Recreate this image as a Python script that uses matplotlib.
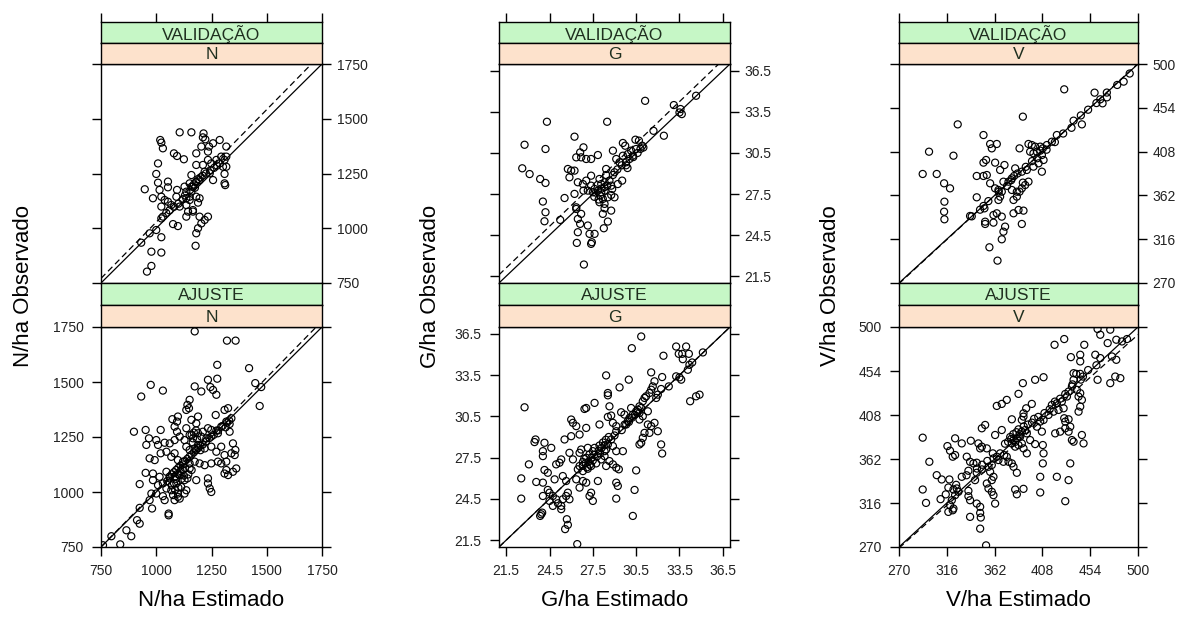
import numpy as np
import matplotlib.pyplot as plt

plt.rcParams['font.family'] = ['Liberation Sans', 'DejaVu Sans']

# ---- N/ha: (estimado, observado) ----
n_val = [(1106, 1438), (1159, 1438), (1214, 1433), (1211, 1415),
         (1018, 1403), (1023, 1391), (1030, 1365), (1080, 1342), (1094, 1330), (1125, 1315),
         (1222, 1406), (1204, 1373), (1239, 1373), (1257, 1388), (1287, 1403), (1317, 1373), (1234, 1350), (1181, 1342),
         (1008, 1296), (1181, 1289), (1211, 1289), (1234, 1312), (1249, 1296), (1272, 1312), (1294, 1327), (1309, 1312),
         (1317, 1327), (1287, 1296), (1302, 1281), (1317, 1281),
         (1000, 1248), (1159, 1243), (1219, 1258), (1242, 1251), (1257, 1220), (1309, 1248), (1309, 1205), (1312, 1197),
         (1008, 1208), (1053, 1213), (948, 1178), (1015, 1175), (1053, 1187), (1094, 1175), (1128, 1190), (1151, 1205),
         (1166, 1190), (1181, 1213), (1196, 1220), (1136, 1167), (1159, 1167),
         (985, 1137), (1023, 1144), (1038, 1129), (1053, 1121), (1091, 1144), (1136, 1137), (1151, 1144), (1181, 1144),
         (1196, 1137), (1151, 1129), (1189, 1117),
         (1023, 1099), (1068, 1106), (1106, 1099), (1136, 1106), (1166, 1083), (1144, 1076),
         (1023, 1045), (1030, 1053), (1136, 1053), (1166, 1076), (1196, 1053), (1234, 1053), (1219, 1038), (1204, 1022),
         (1189, 1000), (1181, 977), (1076, 1019), (1098, 1010),
         (970, 977), (1000, 992), (1023, 959), (932, 934), (978, 893), (1023, 889), (1178, 920), (978, 828), (958, 802),
         (1160, 1190), (1170, 1200), (1180, 1210), (1190, 1225), (1175, 1185), (1200, 1232), (1210, 1240), (1225, 1250),
         (1245, 1265), (1262, 1276), (1275, 1286), (1130, 1150), (1120, 1132), (1100, 1112), (1080, 1098), (1060, 1082),
         (1045, 1070)]

n_fit = [(1174, 1730), (1320, 1688), (1359, 1688), (1276, 1578), (1420, 1563), (975, 1487), (1030, 1461), (932, 1434),
         (1174, 1480), (1204, 1457), (1234, 1510), (1245, 1477), (1257, 1464), (1272, 1442), (1276, 1515), (1448, 1495),
         (1475, 1477), (1468, 1391),
         (1151, 1419), (1141, 1396), (1148, 1381), (1136, 1373), (1309, 1373), (1325, 1381), (1269, 1350), (1073, 1331),
         (1098, 1343), (1094, 1320), (1189, 1343), (1159, 1328), (1181, 1312), (1317, 1320), (1340, 1335), (1332, 1309),
         (899, 1274), (952, 1282), (967, 1244), (1020, 1282), (1083, 1297), (1094, 1274), (1136, 1290), (1151, 1259),
         (1166, 1244), (1189, 1267), (1211, 1274), (1234, 1290), (1249, 1282), (1272, 1279), (1332, 1274), (1294, 1297),
         (1314, 1294), (1279, 1267), (1249, 1252), (1227, 1244), (1204, 1252),
         (955, 1214), (1000, 1236), (1008, 1214), (1038, 1224), (1061, 1221), (1083, 1236), (1106, 1252), (1128, 1236),
         (1136, 1206), (1151, 1191), (1174, 1198), (1189, 1214), (1219, 1198), (1249, 1206), (1272, 1183), (1294, 1206),
         (1347, 1221), (1358, 1191), (1355, 1168), (1340, 1176), (1309, 1168),
         (970, 1153), (993, 1145), (1020, 1176), (1046, 1183), (1068, 1160), (1083, 1176), (1098, 1145), (1121, 1138),
         (1151, 1130), (1174, 1138), (1196, 1130), (1219, 1122), (1249, 1130), (1279, 1138), (1294, 1130), (1317, 1138),
         (1362, 1107), (1347, 1092), (1317, 1100), (1309, 1084), (1325, 1077), (1151, 1107),
         (952, 1087), (985, 1084), (1015, 1069), (1046, 1092), (1061, 1062), (1083, 1069), (1106, 1077), (1128, 1054),
         (1141, 1062), (1181, 1054), (1234, 1062), (1234, 1039),
         (925, 1036), (985, 1054), (1008, 1031), (1030, 1039), (1046, 1016), (1068, 1008), (1091, 1039), (1113, 1023),
         (1136, 1008), (1098, 993), (1076, 986), (1128, 993), (1242, 1016), (1249, 1000),
         (978, 993), (970, 963), (1000, 993), (1030, 981), (1038, 963), (1083, 963), (1098, 978), (1106, 970),
         (925, 928), (981, 925), (1056, 902), (1056, 894), (913, 872), (925, 856), (865, 826), (887, 799), (797, 799),
         (837, 762), (759, 758),
         (1050, 1050), (1060, 1070), (1070, 1080), (1080, 1090), (1090, 1100), (1100, 1110), (1110, 1120), (1120, 1125),
         (1130, 1140), (1140, 1150), (1150, 1160), (1160, 1170), (1170, 1180), (1180, 1190), (1190, 1200), (1200, 1210),
         (1210, 1215), (1225, 1230), (1240, 1245), (1260, 1260), (1280, 1280), (1300, 1300), (1320, 1315), (1330, 1325),
         (1100, 1080), (1110, 1095), (1090, 1060), (1120, 1100), (1130, 1110), (1080, 1040), (1070, 1030), (1115, 1060),
         (1125, 1075), (1145, 1080), (1160, 1100), (1100, 1020), (1085, 1010), (1160, 1260), (1170, 1270), (1180, 1280),
         (1165, 1225), (1185, 1240), (1200, 1190)]

# ---- G/ha ----
g_val = [(31.12, 34.31), (33.11, 34.00), (33.57, 33.71), (33.50, 33.46), (33.66, 33.34), (34.65, 34.68), (31.70, 32.12),
         (32.42, 31.76), (24.32, 32.78), (28.49, 32.78), (26.23, 31.69), (22.77, 31.10), (24.22, 30.79), (26.85, 30.91),
         (26.62, 30.54), (26.35, 30.18), (26.69, 30.18), (27.04, 30.06), (27.38, 30.06), (27.85, 30.35), (28.89, 30.67),
         (29.58, 31.23), (29.74, 31.03), (30.45, 31.47), (30.69, 31.40), (30.92, 31.03), (30.50, 30.79), (30.15, 30.67),
         (29.92, 30.42), (29.58, 30.30), (30.27, 30.30), (29.12, 30.06), (29.35, 29.82), (29.81, 29.82), (30.04, 30.06),
         (22.61, 29.38), (23.12, 28.96), (23.85, 28.60), (24.22, 28.31), (25.77, 29.33), (26.00, 29.21), (26.23, 29.21),
         (25.88, 28.72), (26.46, 28.36), (26.81, 28.23), (27.04, 28.48), (27.38, 28.84), (27.38, 28.11), (27.62, 27.87),
         (27.96, 28.60), (28.08, 28.23), (28.31, 28.36), (28.42, 29.33), (28.42, 28.89), (28.65, 28.48), (28.89, 28.89),
         (29.00, 29.09), (29.23, 28.23), (29.53, 28.48), (28.77, 28.11), (28.84, 27.87),
         (24.04, 26.95), (25.54, 27.21), (26.23, 27.51), (26.85, 27.75), (27.15, 27.75), (27.50, 27.63), (27.85, 27.75),
         (28.08, 27.63), (28.31, 27.75), (28.54, 27.26), (28.77, 27.43), (29.00, 27.26), (28.19, 27.14), (27.96, 26.90),
         (28.31, 26.78),
         (24.22, 26.17), (24.15, 25.51), (25.24, 25.61), (26.35, 26.53), (26.35, 26.41), (26.69, 26.05), (26.46, 25.68),
         (26.62, 25.32), (27.15, 25.20), (26.46, 24.71), (27.27, 24.59), (27.62, 24.59), (27.38, 23.86), (27.43, 23.98),
         (26.39, 23.93), (28.31, 26.46), (28.19, 26.05), (28.77, 26.29), (28.54, 25.49), (28.26, 25.00), (26.88, 22.35),
         (27.6, 27.3), (27.9, 27.1), (28.0, 27.4), (27.7, 27.6), (28.1, 27.9), (28.3, 28.0), (28.5, 28.1), (29.2, 29.3),
         (29.5, 29.6), (30.3, 30.2), (30.6, 30.5), (30.8, 30.8), (31.0, 30.9), (29.8, 29.6), (29.9, 29.4)]

g_fit = [(30.85, 36.31), (30.20, 35.46), (33.27, 35.58), (33.96, 35.58), (33.45, 35.05), (33.69, 35.05), (34.15, 35.05),
         (33.73, 34.66), (32.39, 34.91), (35.12, 35.15), (34.38, 34.42), (34.19, 34.25), (34.08, 33.89), (31.54, 33.70),
         (32.30, 33.36), (33.27, 33.41), (33.50, 33.34), (33.62, 33.17), (28.42, 33.48), (29.99, 33.17), (29.35, 32.61),
         (28.54, 32.20), (28.54, 32.03), (27.62, 31.48), (27.04, 31.11), (26.92, 31.04), (22.77, 31.16), (28.65, 31.23),
         (28.77, 30.56), (28.54, 30.46),
         (31.77, 33.05), (31.65, 32.68), (31.54, 32.44), (31.42, 32.20), (31.19, 31.96), (31.08, 31.84), (30.96, 31.60),
         (30.73, 31.23), (30.62, 30.99), (30.50, 30.87), (30.27, 30.63), (30.04, 30.39), (29.92, 30.15), (29.81, 29.91),
         (32.76, 32.68), (32.23, 32.49), (32.00, 32.08), (31.89, 31.84), (34.24, 31.60), (34.89, 32.08), (34.65, 31.96),
         (26.00, 30.27), (26.12, 30.03), (26.35, 29.79), (27.04, 29.66), (27.96, 29.91), (28.89, 30.03), (29.12, 29.79),
         (29.69, 30.63), (29.46, 30.80), (30.15, 31.11), (30.85, 31.11), (30.73, 30.75), (31.31, 30.87), (30.96, 30.51),
         (30.73, 30.27), (31.31, 29.91), (31.54, 29.79), (31.42, 29.30), (32.00, 29.42), (31.08, 29.30), (30.96, 28.94),
         (30.73, 28.46), (30.85, 28.58), (31.77, 30.03),
         (23.53, 28.82), (23.46, 28.63), (24.15, 28.58), (24.62, 28.21), (24.04, 27.97), (24.04, 27.61), (25.54, 28.82),
         (26.00, 29.06), (26.58, 29.18), (25.88, 27.85), (25.31, 27.37), (25.19, 27.13), (24.96, 27.01), (26.12, 27.37),
         (26.58, 27.85), (26.69, 28.09), (27.15, 28.21), (27.62, 28.21), (27.96, 28.38), (27.50, 27.97), (27.27, 27.73),
         (27.04, 27.49), (26.81, 27.18), (26.58, 26.89), (26.46, 26.65), (26.81, 26.52), (27.15, 26.69), (27.38, 26.89),
         (27.73, 27.08), (28.08, 27.37), (28.31, 27.61), (28.42, 28.09), (28.54, 28.46), (28.77, 28.82), (29.00, 29.11),
         (29.12, 29.42), (28.89, 28.34), (28.31, 27.97), (29.12, 27.97), (29.58, 27.97), (32.23, 28.46), (32.30, 27.80),
         (28.42, 26.89), (28.65, 27.25), (28.89, 27.01), (29.12, 26.77), (29.30, 26.65),
         (23.07, 27.01), (22.54, 25.99), (23.58, 25.73), (24.04, 25.68), (24.15, 26.60), (24.38, 26.40), (24.85, 25.92),
         (25.42, 26.16), (25.65, 25.80), (26.35, 25.92), (26.81, 25.80), (27.04, 25.68), (27.85, 25.80), (29.12, 25.68),
         (29.23, 25.44), (30.50, 26.57), (30.39, 25.15), (27.38, 24.95), (27.27, 24.71), (27.50, 24.35), (26.58, 25.32),
         (24.38, 25.15), (24.50, 24.95), (24.73, 24.71), (24.96, 24.47), (25.08, 24.18), (25.31, 23.99), (25.42, 24.47),
         (25.65, 24.71), (25.77, 24.95), (25.88, 24.47), (25.31, 23.75), (24.73, 23.99), (24.50, 24.35), (24.04, 24.71),
         (23.99, 23.50), (23.85, 23.26), (23.92, 23.38), (22.54, 24.52), (29.12, 24.52), (30.27, 23.26), (25.70, 23.02),
         (25.77, 22.61), (25.58, 22.30), (26.42, 21.21),
         (26.8, 26.9), (27.0, 27.1), (27.2, 27.2), (27.4, 27.5), (27.6, 27.7), (27.8, 27.6), (27.9, 28.0), (28.1, 28.2),
         (28.2, 28.6), (28.4, 28.8), (28.6, 29.0), (26.9, 27.4), (27.1, 26.8), (27.3, 27.0), (27.5, 27.3), (28.0, 27.8),
         (28.3, 28.4), (29.5, 29.5), (29.7, 29.9), (30.0, 30.1), (30.2, 30.4), (30.4, 30.6), (30.6, 30.8)]

# ---- V/ha ----
v_val = [(429.0, 473.4), (458.2, 469.9), (463.7, 462.9), (465.9, 458.7), (470.1, 465.0), (486.2, 481.5), (389.2, 444.7),
         (326.5, 436.6), (351.3, 425.4), (438.0, 440.5), (446.0, 436.6), (421.9, 425.4), (417.1, 418.4), (412.3, 414.9),
         (408.4, 411.4), (405.9, 413.2), (401.0, 413.2), (397.8, 414.9), (394.6, 416.0), (386.0, 411.4), (396.2, 407.9),
         (399.4, 406.2), (402.7, 407.9), (407.5, 404.4), (409.1, 399.2), (404.3, 395.7), (399.4, 392.2), (407.5, 386.9),
         (298.9, 407.9), (322.4, 403.7), (357.7, 416.0), (364.1, 416.0), (359.3, 411.4), (353.8, 399.2), (351.3, 396.4),
         (362.5, 396.4), (371.5, 393.9), (367.3, 388.7), (381.8, 390.4), (388.2, 386.9), (393.0, 388.7), (380.8, 382.4),
         (378.6, 379.9), (375.4, 376.4), (389.2, 375.4), (394.6, 376.4), (391.4, 372.9), (388.2, 369.4), (386.0, 365.9),
         (383.4, 360.7), (380.2, 357.2), (292.8, 384.5), (306.3, 384.5), (313.4, 374.7), (319.1, 369.4), (344.8, 382.4),
         (351.3, 382.4), (354.5, 383.4), (357.7, 374.7), (362.5, 369.4), (365.7, 367.7), (368.9, 365.9), (370.5, 376.4),
         (367.3, 360.7), (365.7, 357.2), (378.6, 367.7), (383.4, 365.9),
         (313.7, 355.4), (313.4, 344.9), (313.7, 336.9), (344.8, 360.0), (351.3, 350.9), (338.4, 340.4), (352.2, 348.4),
         (360.9, 341.4), (364.1, 343.2), (368.9, 339.7), (360.9, 333.4), (352.9, 334.4), (352.9, 332.0), (380.2, 343.2),
         (385.0, 346.7), (389.8, 346.0), (388.2, 332.0), (372.1, 329.2), (370.5, 323.9), (368.9, 315.9), (357.0, 307.5),
         (364.8, 293.5),
         (340, 340), (348, 347), (356, 356), (366, 366), (374, 372), (378, 378), (384, 385), (392, 392), (398, 398),
         (403, 401), (406, 409), (412, 410), (420, 418), (428, 427), (436, 433), (445, 446), (452, 452), (460, 459),
         (470, 470), (480, 478), (492, 490)]

v_fit = [(461.1, 497.9), (473.3, 497.2), (463.7, 491.9), (470.8, 483.2), (479.1, 486.7), (484.6, 484.9), (489.4, 487.4),
         (429.0, 487.4), (419.7, 481.4), (448.3, 481.4), (435.4, 468.5), (444.4, 471.0), (444.4, 464.0), (458.9, 471.0),
         (463.7, 467.5), (474.9, 469.2), (479.1, 465.7), (438.0, 451.7), (440.6, 451.0), (444.4, 451.0), (447.0, 448.2),
         (438.0, 444.8), (461.1, 444.8), (473.3, 441.3), (478.1, 448.2), (483.0, 446.5), (389.2, 441.3), (401.0, 444.8),
         (409.1, 447.5), (385.0, 430.1), (373.7, 423.8), (364.1, 417.5), (368.9, 419.6),
         (436.4, 437.8), (433.2, 432.5), (441.2, 434.3), (444.4, 430.8), (442.8, 427.3), (446.0, 423.8), (431.6, 427.3),
         (426.7, 422.0), (421.9, 420.3), (417.1, 418.5), (428.4, 415.0), (423.5, 413.3), (418.7, 411.5), (413.9, 408.1),
         (409.1, 402.8), (405.9, 401.1), (402.7, 395.8), (407.5, 390.6), (397.8, 419.6), (392.4, 415.0), (389.8, 409.8),
         (389.8, 406.3), (388.2, 402.8), (378.6, 403.5), (352.9, 397.6), (349.7, 394.1), (362.5, 387.1), (368.9, 392.3),
         (391.4, 392.3), (393.0, 388.8), (388.2, 390.6), (386.6, 385.3), (383.4, 383.6), (380.2, 381.8), (378.6, 378.3),
         (381.8, 374.9), (385.0, 376.6), (388.2, 378.3), (389.8, 373.1), (393.0, 367.9), (396.2, 381.8), (401.0, 377.6),
         (408.4, 376.6), (409.1, 367.9), (429.0, 404.6), (430.0, 401.1), (433.2, 403.5), (434.8, 395.8), (433.2, 390.6),
         (430.0, 394.1), (425.1, 390.6), (420.3, 388.8), (436.4, 381.8), (438.0, 380.1), (446.0, 387.1), (447.6, 378.3),
         (442.8, 411.5), (444.4, 416.8), (408.4, 357.4), (434.8, 357.4), (405.9, 343.4), (433.2, 339.9), (405.9, 327.0),
         (430.0, 317.9),
         (292.8, 384.3), (299.2, 359.1), (306.3, 345.1), (311.1, 340.6), (318.5, 340.6), (316.6, 375.5), (319.1, 370.7),
         (321.7, 364.4), (324.0, 366.1), (324.0, 383.6), (330.4, 378.3), (339.1, 381.1), (346.4, 378.3), (349.7, 374.9),
         (335.2, 364.4), (338.4, 359.1), (341.6, 357.4), (344.8, 358.1), (348.1, 373.1), (354.5, 373.1), (360.3, 367.9),
         (364.1, 364.4), (367.3, 367.9), (371.2, 366.1), (373.7, 364.4), (375.4, 359.1), (378.6, 357.4), (380.2, 353.9),
         (383.4, 347.6), (370.5, 359.1), (365.7, 360.9), (360.9, 362.6), (359.3, 355.7), (356.1, 353.9), (357.7, 348.6),
         (360.9, 343.4), (359.3, 339.9), (354.5, 336.4), (356.1, 331.2), (359.3, 327.7), (360.9, 324.2), (362.5, 315.4),
         (349.7, 351.1), (344.8, 347.6), (343.2, 339.9), (336.8, 349.7), (330.4, 343.4),
         (292.8, 330.1), (296.0, 316.1), (317.5, 332.2), (322.4, 330.1), (325.6, 331.2), (327.2, 327.7), (324.0, 324.2),
         (320.8, 318.9), (319.1, 313.7), (321.7, 308.4), (317.5, 306.7), (322.4, 310.2), (336.8, 328.7), (336.8, 323.1),
         (338.4, 318.9), (344.8, 315.4), (348.1, 312.0), (348.1, 305.6), (348.7, 300.8), (348.1, 289.2), (338.4, 301.5),
         (353.8, 271.7), (381.8, 330.1), (389.8, 330.8), (383.4, 325.1), (421.9, 343.4),
         (372, 378), (375, 380), (377, 385), (380, 388), (383, 390), (385, 393), (378, 383), (382, 380), (386, 388),
         (390, 396), (394, 398), (398, 400), (400, 404), (404, 406), (410, 410), (415, 414), (420, 422), (425, 425),
         (430, 430), (437, 440), (445, 445), (452, 455), (460, 460), (350, 356), (355, 360), (345, 352), (335, 345),
         (325, 335), (315, 325), (310, 320)]

# fitted regression lines (intercept, slope) of observado ~ estimado
n_val_line = (771 - 1.028 * 750, 1.028)
n_fit_line = (750 - 1.027 * 750, 1.027)
g_val_line = (21.6 - 1.012 * 21.0, 1.012)
g_fit_line = (0.0, 1.0)
v_val_line = (-2.0, 1.005)
v_fit_line = (7.0, 0.97)

variables = ['N', 'G', 'V']
limits = [(750, 1750), (21.0, 37.0), (270, 500)]
ticks = [[750, 1000, 1250, 1500, 1750],
         [21.5, 24.5, 27.5, 30.5, 33.5, 36.5],
         [270, 316, 362, 408, 454, 500]]
tick_labels = [['750', '1000', '1250', '1500', '1750'],
               ['21.5', '24.5', '27.5', '30.5', '33.5', '36.5'],
               ['270', '316', '362', '408', '454', '500']]
val_sets = [n_val, g_val, v_val]
fit_sets = [n_fit, g_fit, v_fit]
val_lines = [n_val_line, g_val_line, v_val_line]
fit_lines = [n_fit_line, g_fit_line, v_fit_line]
xlabels = ['N/ha Estimado', 'G/ha Estimado', 'V/ha Estimado']
ylabels = ['N/ha Observado', 'G/ha Observado', 'V/ha Observado']

W, H = 1191, 621
fig = plt.figure(figsize=(W / 100, H / 100), dpi=100)


def rect(x0, y0, x1, y1):
    return [x0 / W, 1 - y1 / H, (x1 - x0) / W, (y1 - y0) / H]


cols = [(101, 322), (499, 730), (899, 1138)]
ylab_x = [24, 430, 830]
# (green strip, orange strip, panel) vertical extents in pixels
rows = [((22, 43), (43, 64), (64, 283)),
        ((283, 305), (305, 327), (327, 547))]
strip_names = ['VALIDAÇÃO', 'AJUSTE']
green, orange = '#c6f7c6', '#fde2cc'
tick_len = 6.5


def strip(x0, x1, yy, color, text, lim):
    ax = fig.add_axes(rect(x0, yy[0], x1, yy[1]))
    ax.set_facecolor(color)
    ax.set_xlim(lim)
    ax.set_yticks([])
    ax.text(0.5, 0.45, text, transform=ax.transAxes, ha='center', va='center',
            fontsize=12.5, color='#1f2f1f')
    for s in ax.spines.values():
        s.set_linewidth(1.0)
    return ax


for i, var in enumerate(variables):
    x0, x1 = cols[i]
    lim = limits[i]
    for r, (g_rng, o_rng, p_rng) in enumerate(rows):
        pts = val_sets[i] if r == 0 else fit_sets[i]
        a, b = val_lines[i] if r == 0 else fit_lines[i]

        ax = fig.add_axes(rect(x0, p_rng[0], x1, p_rng[1]))
        ax.set_xlim(lim)
        ax.set_ylim(lim)
        xs = np.array(lim, dtype=float)
        ax.plot(xs, xs, color='black', lw=0.9)
        ax.plot(xs, a + b * xs, color='black', lw=0.9, ls=(0, (5, 3)))
        est = [p[0] for p in pts]
        obs = [p[1] for p in pts]
        ax.scatter(est, obs, s=26, facecolors='none', edgecolors='black', linewidths=0.85, zorder=3)

        ax.set_xticks(ticks[i])
        ax.set_xticklabels(tick_labels[i])
        ax.set_yticks(ticks[i])
        ax.set_yticklabels(tick_labels[i])
        for s in ax.spines.values():
            s.set_linewidth(1.0)
        if r == 0:
            ax.tick_params(axis='x', bottom=False, labelbottom=False)
            ax.tick_params(axis='y', left=True, right=True, labelleft=False, labelright=True,
                           direction='out', length=tick_len, width=1.0, pad=4, labelsize=10,
                           labelcolor='#222222')
        else:
            ax.tick_params(axis='x', bottom=True, labelbottom=True, direction='out',
                           length=tick_len, width=1.0, pad=6, labelsize=10, labelcolor='#222222')
            ax.tick_params(axis='y', left=True, right=True, labelleft=True, labelright=False,
                           direction='out', length=tick_len, width=1.0, pad=6, labelsize=10,
                           labelcolor='#222222')

        sg = strip(x0, x1, g_rng, green, strip_names[r], lim)
        so = strip(x0, x1, o_rng, orange, var, lim)
        so.set_xticks([])
        if r == 0:
            sg.set_xticks(ticks[i])
            sg.tick_params(axis='x', top=True, bottom=False, labeltop=False, labelbottom=False,
                           direction='out', length=tick_len, width=1.0)
        else:
            sg.set_xticks([])

    fig.text((x0 + x1) / 2 / W, 1 - 600 / H, xlabels[i], ha='center', va='center', fontsize=16)
    fig.text(ylab_x[i] / W, 1 - 286 / H, ylabels[i], ha='center', va='center', fontsize=16,
             rotation=90)

fig.savefig('out.png', dpi=100)
